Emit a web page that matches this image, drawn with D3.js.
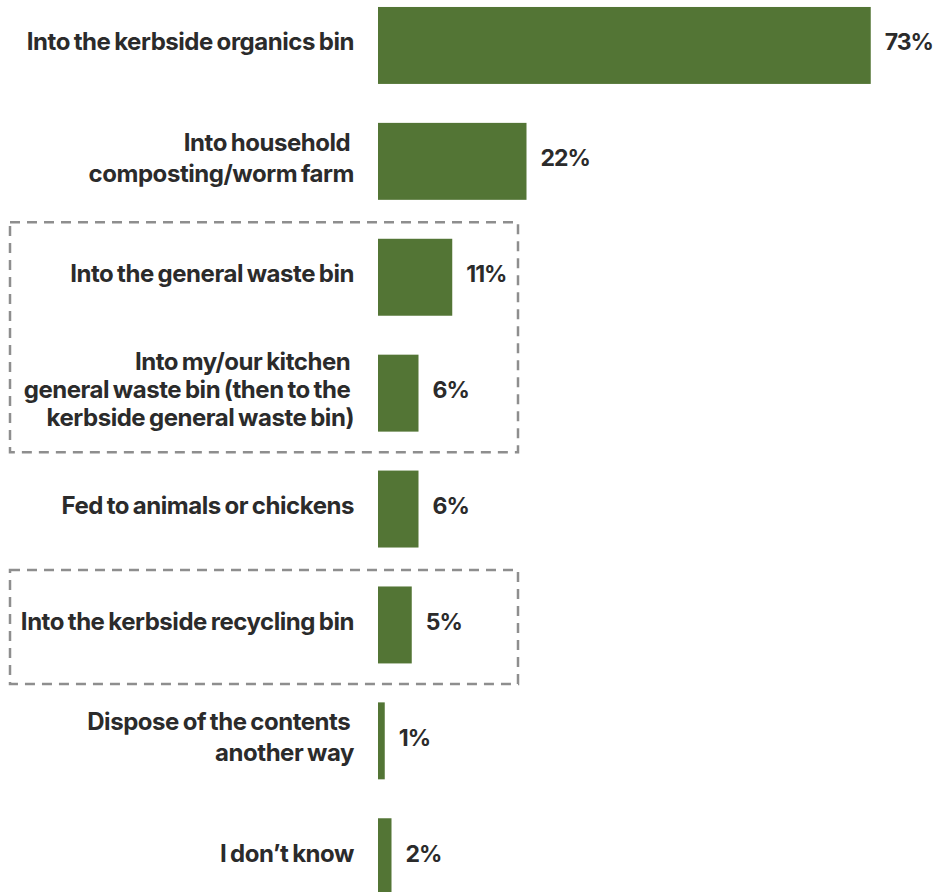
<!DOCTYPE html>
<html>
<head>
<meta charset="utf-8">
<script src="https://cdn.jsdelivr.net/npm/d3@7"></script>
<style>
  html, body { margin: 0; padding: 0; background: #ffffff; }
  svg { display: block; }
  text { font-family: Inter, "Open Sans", sans-serif; font-weight: 700; fill: #2b2b2b; }
</style>
</head>
<body>
<svg id="chart" width="936" height="892"></svg>
<script>
// ---- data ----
const categories = [
  "Into the kerbside organics bin",
  "Into household \ncomposting/worm farm",
  "Into the general waste bin",
  "Into my/our kitchen \ngeneral waste bin (then to the \nkerbside general waste bin)",
  "Fed to animals or chickens",
  "Into the kerbside recycling bin",
  "Dispose of the contents \nanother way",
  "I don\u2019t know"
];
const values = [73, 22, 11, 6, 6, 5, 1, 2];
const valueLabels = ["73%", "22%", "11%", "6%", "6%", "5%", "1%", "2%"];
// dashed highlight groups (first and last category inside each box)
const boxFrom = [2, 5];
const boxTo = [3, 5];

// ---- layout ----
const W = 936, H = 892;
const svg = d3.select("#chart");
const barColor = "#537535";

const x = d3.scaleLinear().domain([0, 100]).range([378, 378 + 675]);
const y = d3.scaleBand()
  .domain(d3.range(categories.length))
  .range([-12.5, 914.7])
  .paddingInner(0.336)
  .paddingOuter(0.168);

// dashed boxes
svg.append("g").selectAll("rect")
  .data(boxFrom.map((f, i) => ({ from: f, to: boxTo[i] })))
  .join("rect")
  .attr("x", 10)
  .attr("y", d => y(d.from) - 16.5)
  .attr("width", 508)
  .attr("height", d => (y(d.to) + y.bandwidth() + 20.5) - (y(d.from) - 16.5))
  .attr("fill", "none")
  .attr("stroke", "#8e8e8e")
  .attr("stroke-width", 2.5)
  .attr("stroke-dasharray", "10,7");

// bars
svg.append("g").selectAll("rect")
  .data(values)
  .join("rect")
  .attr("x", x(0))
  .attr("y", (d, i) => y(i))
  .attr("width", d => x(d) - x(0))
  .attr("height", y.bandwidth())
  .attr("fill", barColor);

// category labels
const fontSize = 24;
const lab = svg.append("g").selectAll("text")
  .data(categories)
  .join("text")
  .attr("text-anchor", "end")
  .attr("font-size", fontSize)
  .attr("letter-spacing", "-0.45px")
  .attr("word-spacing", "-1.5px")
  .style("white-space", "pre");

lab.each(function(d, i) {
  const lines = d.split("\n");
  const n = lines.length;
  const lh = n === 3 ? 28.3 : 31;
  const cy = y(i) + y.bandwidth() / 2 + 5;
  d3.select(this).selectAll("tspan")
    .data(lines)
    .join("tspan")
    .attr("x", 354)
    .attr("y", (l, j) => cy + (j - (n - 1) / 2) * lh)
    .text(l => l);
});

// value labels
svg.append("g").selectAll("text")
  .data(values)
  .join("text")
  .attr("x", d => x(d) + 14)
  .attr("y", (d, i) => y(i) + y.bandwidth() / 2 + 5)
  .attr("font-size", 23)
  .attr("letter-spacing", "-1px")
  .text((d, i) => valueLabels[i]);
</script>
</body>
</html>
